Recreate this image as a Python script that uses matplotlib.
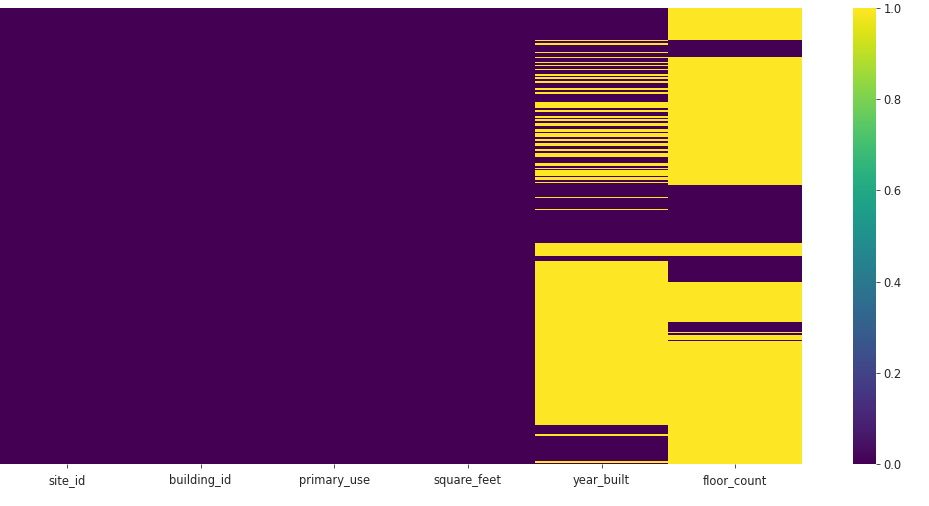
import numpy as np
import pandas as pd
import seaborn as sns
from matplotlib import pyplot as plt

n_rows = 1449
columns = ['site_id', 'building_id', 'primary_use', 'square_feet', 'year_built', 'floor_count']

# row ranges (start, end) where the value is missing
year_built_missing = [
    (103, 106), (110, 118), (140, 143), (155, 159), (171, 175), (180, 184),
    (193, 197), (210, 216), (219, 226), (232, 238), (255, 262), (266, 272),
    (300, 319), (324, 330), (342, 349), (353, 359), (365, 375), (385, 394),
    (398, 409), (417, 424), (428, 439), (449, 455), (460, 473), (494, 502),
    (508, 512), (514, 533), (537, 548), (552, 556), (601, 605), (639, 643),
    (748, 788), (804, 1325), (1354, 1359), (1440, 1446),
]
floor_count_missing = [
    (0, 102), (156, 562), (748, 788), (872, 999), (1029, 1033),
    (1038, 1055), (1059, 1449),
]

def mask(ranges):
    m = np.zeros(n_rows, dtype=bool)
    for a, b in ranges:
        m[a:b] = True
    return m

missing = pd.DataFrame({c: np.zeros(n_rows, dtype=bool) for c in columns})
missing['year_built'] = mask(year_built_missing)
missing['floor_count'] = mask(floor_count_missing)

fig = plt.figure(figsize=(929/72, 506/72), dpi=72)
ax = fig.add_axes([0.0, 42/506, 802/929, 456/506])
cax = fig.add_axes([853/929, 42/506, 23/929, 456/506])
sns.heatmap(missing, yticklabels=False, cmap='viridis', ax=ax, cbar_ax=cax)
ax.tick_params(axis='x', labelsize=11.5, length=4, pad=6, colors='#262626')
cax.tick_params(labelsize=11.5, length=4, colors='#262626')
fig.savefig('out.png', dpi=72)
